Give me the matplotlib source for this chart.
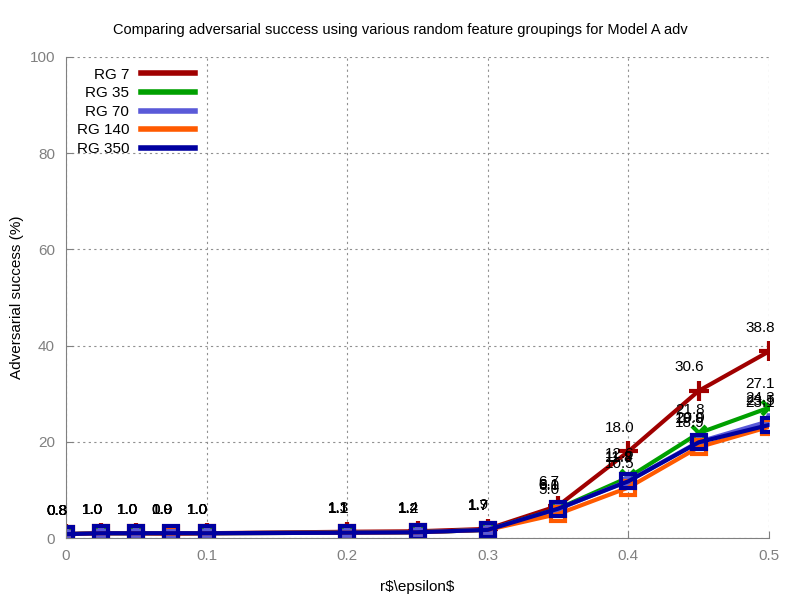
import matplotlib.pyplot as plt
import numpy as np

plt.rcParams['font.family'] = ['Liberation Sans', 'DejaVu Sans']

# epsilon values and adversarial success (%) per random grouping
eps = [0.0, 0.025, 0.05, 0.075, 0.1, 0.2, 0.25, 0.3, 0.35, 0.4, 0.45, 0.5]
rg7 = [0.8, 1.0, 1.0, 0.9, 1.0, 1.3, 1.4, 1.9, 6.7, 18.0, 30.6, 38.8]
rg35 = [0.8, 1.0, 1.0, 1.0, 1.0, 1.1, 1.2, 1.7, 6.1, 12.6, 21.8, 27.1]
rg70 = [0.8, 1.0, 1.0, 1.0, 1.0, 1.1, 1.2, 1.7, 6.0, 11.9, 20.0, 24.3]
rg140 = [0.8, 1.0, 1.0, 0.9, 1.0, 1.1, 1.2, 1.7, 5.0, 10.5, 18.9, 23.1]
rg350 = [0.8, 1.0, 1.0, 1.0, 1.0, 1.1, 1.2, 1.7, 6.1, 11.8, 19.9, 23.5]

series = [
    ("RG 7", rg7, "#a00000", "+", 14),
    ("RG 35", rg35, "#00a000", "x", 10),
    ("RG 70", rg70, "#5a5ad8", "*", 10),
    ("RG 140", rg140, "#ff5a00", "s", 10),
    ("RG 350", rg350, "#0000a0", "s", 10),
]

fig = plt.figure(figsize=(8, 6), dpi=100)
ax = fig.add_axes([0.0825, 0.1033, 0.8788, 0.8017])

for name, vals, col, mk, ms in series:
    ax.plot(eps, vals, color=col, lw=3, marker=mk, markersize=ms, mew=3,
            mfc='none', mec=col, label=name)
    for x, v in zip(eps, vals):
        ax.annotate(f"{v:.1f}", xy=(x, v), xytext=(-6.5, 17), textcoords="offset points",
                    ha="center", va="center", fontsize=11, color="black")

ax.set_xlim(0, 0.5)
ax.set_ylim(0, 100)
ax.set_xticks(np.arange(0, 0.51, 0.1))
ax.set_xticklabels(["0", "0.1", "0.2", "0.3", "0.4", "0.5"])
ax.set_yticks(np.arange(0, 101, 20))
ax.tick_params(direction="in", colors="#808080", labelsize=11, length=5, pad=8)
ax.grid(True, linestyle=(0, (2, 3)), color="#909090", lw=0.8)
ax.set_axisbelow(True)
for side in ["top", "right"]:
    ax.spines[side].set_visible(False)
for side in ["left", "bottom"]:
    ax.spines[side].set_color("#808080")

ax.set_xlabel(r"r$\epsilon$", fontsize=11, parse_math=False, labelpad=12)
ax.set_ylabel("Adversarial success (%)", fontsize=11, labelpad=4)
fig.suptitle("Comparing adversarial success using various random feature groupings for Model A adv",
             fontsize=10.5, y=0.962)

leg = ax.legend(loc="upper left", frameon=False, markerfirst=False, fontsize=11,
                handlelength=3.5, labelspacing=0.3, borderaxespad=0.3)
for h in leg.legend_handles:
    h.set_marker("")
    h.set_linewidth(4)
for t in leg.get_texts():
    t.set_ha("right")

fig.savefig("out.png", dpi=100)
